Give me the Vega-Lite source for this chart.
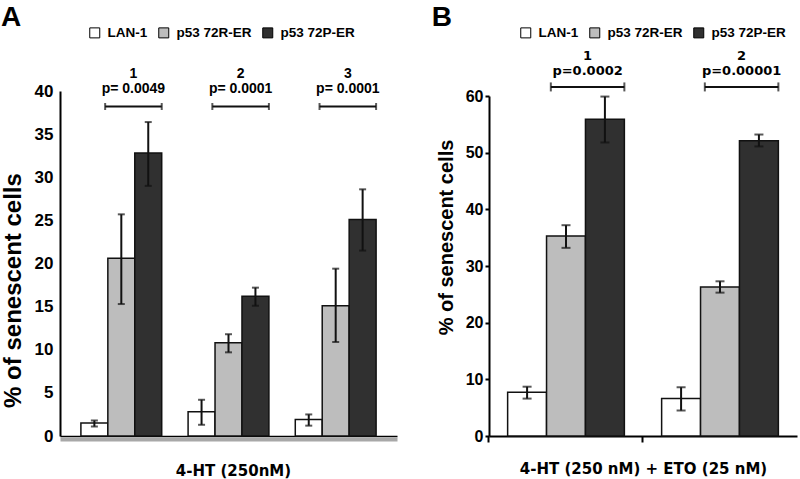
{
  "$schema": "https://vega.github.io/schema/vega-lite/v6.json",
  "width": 737,
  "height": 345,
  "autosize": {"type": "none"},
  "padding": {"left": 60, "top": 91, "right": 3, "bottom": 43},
  "background": "white",
  "config": {
    "view": {"stroke": null},
    "axis": {"domainColor": "black", "tickColor": "black", "labelColor": "black", "titleColor": "black", "titleFontWeight": "bold", "labelFontWeight": "bold"},
    "legend": {"labelColor": "black"}
  },
  "datasets": {
    "a": [
      {"exp": "1", "cell": "LAN-1", "pct": 1.5, "lo": 1.1, "hi": 1.8},
      {"exp": "1", "cell": "p53 72R-ER", "pct": 20.6, "lo": 15.3, "hi": 25.7},
      {"exp": "1", "cell": "p53 72P-ER", "pct": 32.8, "lo": 29.0, "hi": 36.4},
      {"exp": "2", "cell": "LAN-1", "pct": 2.8, "lo": 1.3, "hi": 4.2},
      {"exp": "2", "cell": "p53 72R-ER", "pct": 10.8, "lo": 9.7, "hi": 11.8},
      {"exp": "2", "cell": "p53 72P-ER", "pct": 16.2, "lo": 15.1, "hi": 17.2},
      {"exp": "3", "cell": "LAN-1", "pct": 1.9, "lo": 1.2, "hi": 2.5},
      {"exp": "3", "cell": "p53 72R-ER", "pct": 15.1, "lo": 10.9, "hi": 19.4},
      {"exp": "3", "cell": "p53 72P-ER", "pct": 25.1, "lo": 21.5, "hi": 28.6}
    ],
    "aSig": [
      {"exp": "1", "bracket": 38.2, "num": "1", "p": "p= 0.0049"},
      {"exp": "2", "bracket": 38.2, "num": "2", "p": "p= 0.0001"},
      {"exp": "3", "bracket": 38.2, "num": "3", "p": "p= 0.0001"}
    ],
    "b": [
      {"exp": "1", "cell": "LAN-1", "pct": 7.7, "lo": 6.6, "hi": 8.7},
      {"exp": "1", "cell": "p53 72R-ER", "pct": 35.3, "lo": 33.2, "hi": 37.2},
      {"exp": "1", "cell": "p53 72P-ER", "pct": 55.9, "lo": 51.8, "hi": 59.9},
      {"exp": "2", "cell": "LAN-1", "pct": 6.6, "lo": 4.5, "hi": 8.6},
      {"exp": "2", "cell": "p53 72R-ER", "pct": 26.3, "lo": 25.3, "hi": 27.3},
      {"exp": "2", "cell": "p53 72P-ER", "pct": 52.1, "lo": 51.1, "hi": 53.2}
    ],
    "bSig": [
      {"exp": "1", "bracket": 61.6, "num": "1", "p": "p=0.0002"},
      {"exp": "2", "bracket": 61.6, "num": "2", "p": "p=0.00001"}
    ]
  },
  "layer": [
    {
      "layer": [
        {
          "data": {"name": "a"},
          "mark": {"type": "bar", "stroke": "#111111", "strokeWidth": 1.5},
          "encoding": {
            "x": {"field": "exp", "type": "nominal",
              "scale": {"range": [0, 337], "paddingInner": 0.246, "paddingOuter": 0.195},
              "axis": {"orient": "bottom", "labels": false, "ticks": false, "domainColor": "#a8a8a8", "domainWidth": 4, "offset": 3,
                "title": "4-HT (250nM)", "titleFont": "DejaVu Sans", "titleFontSize": 15, "titlePadding": 24, "titleX": 173}},
            "xOffset": {"field": "cell", "type": "nominal", "scale": {"domain": ["LAN-1", "p53 72R-ER", "p53 72P-ER"], "paddingInner": 0}},
            "y": {"field": "pct", "type": "quantitative",
              "scale": {"domain": [0, 40], "nice": false},
              "axis": {"orient": "left", "values": [0, 5, 10, 15, 20, 25, 30, 35, 40], "ticks": false, "domainWidth": 2,
                "labelFont": "Liberation Sans", "labelFontSize": 17, "labelPadding": 7,
                "grid": true, "gridWidth": 1.5, "gridColor": {"condition": {"test": "datum.value === 0", "value": "black"}, "value": "transparent"},
                "title": "% of senescent cells", "titleFont": "Liberation Sans", "titleFontSize": 24, "titlePadding": 9, "titleY": 199}},
            "color": {"field": "cell", "type": "nominal",
              "scale": {"domain": ["LAN-1", "p53 72R-ER", "p53 72P-ER"], "range": ["#ffffff", "#bdbdbd", "#303030"]},
              "legend": {"orient": "none", "legendX": 28, "legendY": -65, "direction": "horizontal", "title": null,
                "symbolType": "square", "symbolSize": 100, "symbolStrokeColor": "black", "symbolStrokeWidth": 1,
                "labelFont": "Liberation Sans", "labelFontSize": 13.5, "labelFontWeight": "bold", "labelOffset": 6, "columnPadding": 8, "padding": 0}}
          }
        },
        {
          "data": {"name": "a"},
          "mark": {"type": "rule", "color": "#111111", "strokeWidth": 2},
          "encoding": {
            "x": {"field": "exp", "type": "nominal"},
            "xOffset": {"field": "cell", "type": "nominal"},
            "y": {"field": "lo", "type": "quantitative"},
            "y2": {"field": "hi"}
          }
        },
        {
          "data": {"name": "a"},
          "mark": {"type": "tick", "color": "#111111", "size": 7, "thickness": 2},
          "encoding": {
            "x": {"field": "exp", "type": "nominal"},
            "xOffset": {"field": "cell", "type": "nominal"},
            "y": {"field": "lo", "type": "quantitative"}
          }
        },
        {
          "data": {"name": "a"},
          "mark": {"type": "tick", "color": "#111111", "size": 7, "thickness": 2},
          "encoding": {
            "x": {"field": "exp", "type": "nominal"},
            "xOffset": {"field": "cell", "type": "nominal"},
            "y": {"field": "hi", "type": "quantitative"}
          }
        },
        {
          "data": {"name": "aSig"},
          "mark": {"type": "rule", "color": "#111111", "strokeWidth": 2},
          "encoding": {
            "x": {"field": "exp", "type": "nominal", "bandPosition": 0.3},
            "x2": {"field": "exp", "bandPosition": 1},
            "y": {"field": "bracket", "type": "quantitative"}
          }
        },
        {
          "data": {"name": "aSig"},
          "mark": {"type": "tick", "orient": "vertical", "color": "#111111", "size": 7, "thickness": 2},
          "encoding": {
            "x": {"field": "exp", "type": "nominal", "bandPosition": 0.3},
            "y": {"field": "bracket", "type": "quantitative"}
          }
        },
        {
          "data": {"name": "aSig"},
          "mark": {"type": "tick", "orient": "vertical", "color": "#111111", "size": 7, "thickness": 2},
          "encoding": {
            "x": {"field": "exp", "type": "nominal", "bandPosition": 1},
            "y": {"field": "bracket", "type": "quantitative"}
          }
        },
        {
          "data": {"name": "aSig"},
          "mark": {"type": "text", "font": "Liberation Sans", "fontWeight": "bold", "fontSize": 14, "color": "black", "baseline": "middle", "dy": -18},
          "encoding": {
            "x": {"field": "exp", "type": "nominal", "bandPosition": 0.65},
            "y": {"field": "bracket", "type": "quantitative"},
            "text": {"field": "p"}
          }
        },
        {
          "data": {"name": "aSig"},
          "mark": {"type": "text", "font": "Liberation Sans", "fontWeight": "bold", "fontSize": 14, "color": "black", "baseline": "middle", "dy": -33},
          "encoding": {
            "x": {"field": "exp", "type": "nominal", "bandPosition": 0.65},
            "y": {"field": "bracket", "type": "quantitative"},
            "text": {"field": "num"}
          }
        },
        {
          "data": {"name": "aSig"},
          "transform": [{"filter": "datum.exp === '1'"}],
          "mark": {"type": "text", "font": "Liberation Sans", "fontWeight": "bold", "fontSize": 28, "color": "black", "align": "left", "baseline": "alphabetic", "dx": -80, "dy": -65},
          "encoding": {
            "x": {"field": "exp", "type": "nominal", "bandPosition": 0},
            "y": {"datum": 40, "type": "quantitative"},
            "text": {"value": "A"}
          }
        }
      ]
    },
    {
      "layer": [
        {
          "data": {"name": "b"},
          "mark": {"type": "bar", "stroke": "#111111", "strokeWidth": 1.5},
          "encoding": {
            "x": {"field": "exp", "type": "nominal",
              "scale": {"range": [429, 737], "paddingInner": 0.242, "paddingOuter": 0.121},
              "axis": {"orient": "bottom", "labels": false, "ticks": true, "tickSize": 6, "tickWidth": 2, "bandPosition": -0.16, "domainWidth": 2,
                "title": "4-HT (250 nM) + ETO (25 nM)", "titleFont": "DejaVu Sans", "titleFontSize": 15, "titlePadding": 18}},
            "xOffset": {"field": "cell", "type": "nominal", "scale": {"domain": ["LAN-1", "p53 72R-ER", "p53 72P-ER"], "paddingInner": 0}},
            "y": {"field": "pct", "type": "quantitative",
              "scale": {"domain": [0, 60], "nice": false, "range": [345, 5]},
              "axis": {"orient": "left", "offset": -429, "values": [0, 10, 20, 30, 40, 50, 60], "ticks": true, "tickSize": 4, "tickWidth": 2, "domainWidth": 2,
                "labelFont": "Liberation Sans Narrow, Liberation Sans", "labelFontSize": 16, "labelPadding": 2, "grid": false,
                "title": "% of senescent cells", "titleFont": "Liberation Sans", "titleFontSize": 20, "titlePadding": 9, "titleY": 146}},
            "color": {"field": "cell", "type": "nominal",
              "scale": {"domain": ["LAN-1", "p53 72R-ER", "p53 72P-ER"], "range": ["#ffffff", "#bdbdbd", "#303030"]},
              "legend": {"orient": "none", "legendX": 459, "legendY": -65, "direction": "horizontal", "title": null,
                "symbolType": "square", "symbolSize": 100, "symbolStrokeColor": "black", "symbolStrokeWidth": 1,
                "labelFont": "Liberation Sans Narrow, Liberation Sans", "labelFontSize": 13.5, "labelFontWeight": "bold", "labelOffset": 6, "columnPadding": 8, "padding": 0}}
          }
        },
        {
          "data": {"name": "b"},
          "mark": {"type": "rule", "color": "#111111", "strokeWidth": 2},
          "encoding": {
            "x": {"field": "exp", "type": "nominal"},
            "xOffset": {"field": "cell", "type": "nominal"},
            "y": {"field": "lo", "type": "quantitative"},
            "y2": {"field": "hi"}
          }
        },
        {
          "data": {"name": "b"},
          "mark": {"type": "tick", "color": "#111111", "size": 9, "thickness": 2},
          "encoding": {
            "x": {"field": "exp", "type": "nominal"},
            "xOffset": {"field": "cell", "type": "nominal"},
            "y": {"field": "lo", "type": "quantitative"}
          }
        },
        {
          "data": {"name": "b"},
          "mark": {"type": "tick", "color": "#111111", "size": 9, "thickness": 2},
          "encoding": {
            "x": {"field": "exp", "type": "nominal"},
            "xOffset": {"field": "cell", "type": "nominal"},
            "y": {"field": "hi", "type": "quantitative"}
          }
        },
        {
          "data": {"name": "bSig"},
          "mark": {"type": "rule", "color": "#111111", "strokeWidth": 2},
          "encoding": {
            "x": {"field": "exp", "type": "nominal", "bandPosition": 0.37},
            "x2": {"field": "exp", "bandPosition": 1},
            "y": {"field": "bracket", "type": "quantitative"}
          }
        },
        {
          "data": {"name": "bSig"},
          "mark": {"type": "tick", "orient": "vertical", "color": "#111111", "size": 9, "thickness": 2},
          "encoding": {
            "x": {"field": "exp", "type": "nominal", "bandPosition": 0.37},
            "y": {"field": "bracket", "type": "quantitative"}
          }
        },
        {
          "data": {"name": "bSig"},
          "mark": {"type": "tick", "orient": "vertical", "color": "#111111", "size": 9, "thickness": 2},
          "encoding": {
            "x": {"field": "exp", "type": "nominal", "bandPosition": 1},
            "y": {"field": "bracket", "type": "quantitative"}
          }
        },
        {
          "data": {"name": "bSig"},
          "mark": {"type": "text", "font": "DejaVu Sans", "fontWeight": "bold", "fontSize": 13, "color": "black", "baseline": "middle", "dy": -16},
          "encoding": {
            "x": {"field": "exp", "type": "nominal", "bandPosition": 0.685},
            "y": {"field": "bracket", "type": "quantitative"},
            "text": {"field": "p"}
          }
        },
        {
          "data": {"name": "bSig"},
          "mark": {"type": "text", "font": "DejaVu Sans", "fontWeight": "bold", "fontSize": 13, "color": "black", "baseline": "middle", "dy": -31},
          "encoding": {
            "x": {"field": "exp", "type": "nominal", "bandPosition": 0.685},
            "y": {"field": "bracket", "type": "quantitative"},
            "text": {"field": "num"}
          }
        },
        {
          "data": {"name": "bSig"},
          "transform": [{"filter": "datum.exp === '1'"}],
          "mark": {"type": "text", "font": "Liberation Sans", "fontWeight": "bold", "fontSize": 28, "color": "black", "align": "left", "baseline": "alphabetic", "dx": -76, "dy": -70},
          "encoding": {
            "x": {"field": "exp", "type": "nominal", "bandPosition": 0},
            "y": {"datum": 60, "type": "quantitative"},
            "text": {"value": "B"}
          }
        }
      ]
    }
  ],
  "resolve": {
    "scale": {"x": "independent", "y": "independent", "color": "independent", "xOffset": "independent"},
    "axis": {"x": "independent", "y": "independent"},
    "legend": {"color": "independent"}
  }
}
